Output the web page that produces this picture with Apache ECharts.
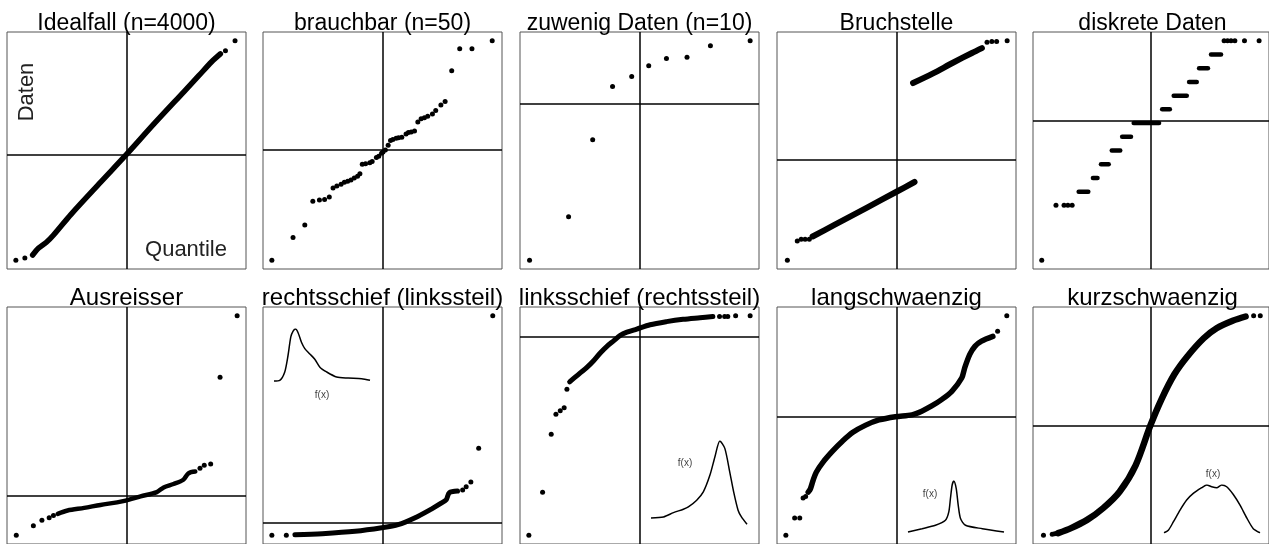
<!DOCTYPE html>
<html>
<head>
<meta charset="utf-8">
<script src="https://cdn.jsdelivr.net/npm/echarts@6/dist/echarts.min.js"></script>
<style>
html, body { margin: 0; padding: 0; background: #fff; }
#c { width: 1269px; height: 544px; }
</style>
</head>
<body>
<div id="c"></div>
<script>
// Panel titles (row by row)
const titles = ['Idealfall (n=4000)', 'brauchbar (n=50)', 'zuwenig Daten (n=10)', 'Bruchstelle', 'diskrete Daten',
  'Ausreisser', 'rechtsschief (linkssteil)', 'linksschief (rechtssteil)', 'langschwaenzig', 'kurzschwaenzig'];

// Level of the horizontal reference line (mean of the data) per panel
const crossY = [0, 0, 0, 0, 10.2, 0, 0, 0, 0, 0];

// Points are [theoretical quantile, data value]
// Idealfall: isolated tail points + the dense body
const idealDots = [[-3.69, -3.48], [-3.39, -3.41], [3.30, 3.41], [3.62, 3.74]];
const idealLine = [[-3.13, -3.31], [-2.93, -3.08], [-2.67, -2.89], [-2.44, -2.66], [-1.85, -1.97], [-0.87, -0.92],
  [0, 0], [0.93, 1.02], [1.92, 2.07], [2.41, 2.59], [2.84, 3.05], [3.13, 3.31]];

// brauchbar: 50 points
const usableDots = [[-2.35, -2.32], [-1.90, -1.84], [-1.65, -1.58], [-1.48, -1.08], [-1.34, -1.05], [-1.23, -1.04],
  [-1.13, -0.99], [-1.05, -0.80], [-0.97, -0.76], [-0.88, -0.72], [-0.81, -0.68], [-0.74, -0.66], [-0.67, -0.63],
  [-0.60, -0.59], [-0.53, -0.55], [-0.48, -0.50], [-0.43, -0.30], [-0.36, -0.29], [-0.27, -0.27], [-0.22, -0.24],
  [-0.13, -0.16], [-0.08, -0.13], [-0.02, -0.07], [0.01, -0.04], [0.06, 0.00], [0.12, 0.10], [0.17, 0.20],
  [0.22, 0.22], [0.29, 0.25], [0.34, 0.26], [0.41, 0.27], [0.50, 0.34], [0.55, 0.37], [0.61, 0.38], [0.68, 0.40],
  [0.75, 0.59], [0.82, 0.66], [0.89, 0.68], [0.96, 0.71], [1.06, 0.76], [1.13, 0.83], [1.24, 0.95], [1.33, 1.02],
  [1.47, 1.67], [1.64, 2.13], [1.90, 2.13], [2.33, 2.30]];

// zuwenig Daten: 10 points
const fewDots = [[-1.55, -2.19], [-1.00, -1.58], [-0.66, -0.50], [-0.38, 0.25], [-0.11, 0.39], [0.13, 0.54],
  [0.38, 0.64], [0.67, 0.66], [1.00, 0.82], [1.56, 0.89]];

// Bruchstelle: two separated straight pieces
const breakDots = [[-3.63, -3.31], [-3.30, -2.68], [-3.17, -2.62], [-3.04, -2.62], [-2.90, -2.62],
  [3.01, 3.85], [3.17, 3.88], [3.33, 3.88], [3.68, 3.90]];
const breakLower = [[-2.79, -2.53], [-2.08, -2.16], [-0.98, -1.58], [0, -1.06], [0.60, -0.74]];
const breakUpper = [[0.55, 2.51], [1.20, 2.82], [1.86, 3.17], [2.51, 3.50], [2.84, 3.66]];

// diskrete Daten: integer levels, each run of equal values spans a quantile interval
const discreteDots = [[-2.84, 0], [-2.47, 4], [-2.26, 4], [-2.16, 4], [-2.05, 4],
  [1.90, 16], [1.99, 16], [2.08, 16], [2.18, 16], [2.43, 16], [2.81, 16]];
const discreteLevels = [5, 6, 7, 8, 9, 10, 11, 12, 13, 14, 15];
const discreteStart = [-1.88, -1.51, -1.30, -1.02, -0.75, -0.45, 0.29, 0.59, 0.99, 1.25, 1.56];
const discreteEnd = [-1.63, -1.39, -1.10, -0.80, -0.52, 0.21, 0.49, 0.93, 1.19, 1.48, 1.82];

// Ausreisser
const outlierDots = [[-2.58, -0.93], [-2.18, -0.71], [-1.98, -0.58], [-1.81, -0.52], [-1.71, -0.47],
  [1.72, 0.64], [1.82, 0.71], [1.97, 0.74], [2.19, 2.77], [2.59, 4.21]];
const outlierLine = [[-1.61, -0.43], [-1.38, -0.35], [-0.99, -0.29], [-0.61, -0.22], [-0.22, -0.16], [-0.02, -0.12],
  [0.33, -0.02], [0.71, 0.08], [0.87, 0.19], [1.10, 0.27], [1.33, 0.37], [1.45, 0.52], [1.61, 0.56]];

// rechtsschief
const rightSkewDots = [[-2.83, -0.33], [-2.46, -0.33], [2.05, 0.83], [2.14, 0.91], [2.26, 1.03], [2.46, 1.90], [2.82, 5.29]];
const rightSkewLine = [[-2.24, -0.32], [-1.54, -0.29], [-0.70, -0.23], [-0.02, -0.14], [0.40, -0.06], [0.82, 0.11],
  [1.25, 0.34], [1.50, 0.49], [1.63, 0.58], [1.71, 0.76], [1.92, 0.80]];
const rightSkewDensity = [[0, 0.019], [0.6, 0.032], [1.12, 0.19], [1.46, 0.50], [1.75, 0.85], [1.99, 0.96], [2.24, 1.0],
  [2.51, 0.93], [2.86, 0.75], [3.21, 0.63], [3.73, 0.53], [4.25, 0.43], [4.78, 0.28], [5.48, 0.19], [6.52, 0.094],
  [7.73, 0.075], [9.13, 0.062], [10.0, 0.032]];

// linksschief
const leftSkewDots = [[-2.82, -5.08], [-2.47, -3.98], [-2.25, -2.50], [-2.13, -1.99], [-2.02, -1.90], [-1.92, -1.82],
  [-1.85, -1.35], [2.04, 0.51], [2.17, 0.51], [2.25, 0.51], [2.45, 0.53], [2.82, 0.53]];
const leftSkewLine = [[-1.78, -1.16], [-1.64, -1.04], [-1.51, -0.93], [-1.34, -0.79], [-1.17, -0.62], [-1.00, -0.42],
  [-0.83, -0.25], [-0.66, -0.11], [-0.49, 0.03], [-0.32, 0.11], [-0.07, 0.19], [0.27, 0.30], [0.69, 0.38],
  [1.11, 0.44], [1.54, 0.48], [1.87, 0.51]];
const leftSkewDensity = [[0, 0.084], [1.30, 0.096], [2.34, 0.147], [3.37, 0.188], [3.89, 0.215], [4.76, 0.295],
  [5.45, 0.394], [6.14, 0.594], [6.66, 0.812], [7.17, 1.0], [7.69, 0.912], [8.20, 0.633], [8.61, 0.394],
  [9.07, 0.176], [9.42, 0.096], [10.0, 0.008]];

// langschwaenzig
const longTailDots = [[-3.02, -3.22], [-2.78, -2.75], [-2.64, -2.75], [-2.55, -2.21], [-2.48, -2.17], [2.76, 2.32], [3.01, 2.74]];
const longTailLine = [[-2.41, -2.05], [-2.35, -1.96], [-2.28, -1.74], [-2.19, -1.51], [-2.01, -1.24], [-1.74, -0.93],
  [-1.47, -0.66], [-1.20, -0.43], [-0.84, -0.23], [-0.48, -0.09], [-0.03, 0.00], [0.42, 0.05], [0.69, 0.15],
  [0.96, 0.29], [1.24, 0.47], [1.51, 0.69], [1.78, 1.05], [1.86, 1.32], [2.00, 1.69], [2.14, 1.91], [2.32, 2.05], [2.63, 2.18]];
const longTailDensity = [[0, 0.019], [1.46, 0.083], [2.86, 0.149], [3.90, 0.246], [4.25, 0.406], [4.42, 0.663],
  [4.60, 0.923], [4.77, 1.0], [5.02, 0.857], [5.23, 0.536], [5.47, 0.277], [5.99, 0.149], [7.74, 0.083], [10.0, 0.019]];

// kurzschwaenzig
const shortTailDots = [[-3.08, -3.07], [-2.83, -3.04], [-2.76, -3.03], [2.94, 3.08], [3.13, 3.08]];
const shortTailLine = [[-2.66, -3.01], [-2.29, -2.87], [-1.83, -2.64], [-1.37, -2.31], [-0.90, -1.85], [-0.44, -1.11],
  [-0.02, 0], [0.30, 0.74], [0.67, 1.44], [1.04, 1.94], [1.51, 2.45], [1.88, 2.73], [2.34, 2.94], [2.71, 3.06]];
const shortTailDensity = [[0, 0.006], [0.45, 0.057], [0.97, 0.23], [1.67, 0.476], [2.36, 0.686], [3.05, 0.824],
  [3.93, 0.943], [4.45, 1.0], [4.97, 0.964], [5.49, 0.943], [6.01, 1.0], [6.53, 0.964], [7.22, 0.803],
  [7.92, 0.581], [8.62, 0.314], [9.30, 0.09], [10.0, 0.006]];

// ---- layout ----
const FONT = '"Liberation Sans", Arial, Helvetica, sans-serif';
const LEFTS = [7, 263, 520, 777, 1033];
const TOPS = [32, 307];
const TITLE_SIZE = [23, 24];
const PW = 239, PH = 237;

const steps = discreteLevels.map((lv, k) => [[discreteStart[k], lv], [discreteEnd[k], lv]]);

const panels = [
  { dots: idealDots, lines: [idealLine], width: 5.5 },
  { dots: usableDots, lines: [], width: 5 },
  { dots: fewDots, lines: [], width: 5 },
  { dots: breakDots, lines: [breakLower, breakUpper], width: 6 },
  { dots: discreteDots, lines: steps, width: 4.5, straight: true },
  { dots: outlierDots, lines: [outlierLine], width: 4.5 },
  { dots: rightSkewDots, lines: [rightSkewLine], width: 5,
    density: rightSkewDensity, inset: { left: 274, top: 329, width: 96, height: 53 }, label: [322, 395] },
  { dots: leftSkewDots, lines: [leftSkewLine], width: 5,
    density: leftSkewDensity, inset: { left: 651, top: 441, width: 96, height: 84 }, label: [685, 463] },
  { dots: longTailDots, lines: [longTailLine], width: 5.5,
    density: longTailDensity, inset: { left: 908, top: 481, width: 96, height: 52 }, label: [930, 494] },
  { dots: shortTailDots, lines: [shortTailLine], width: 6.5,
    density: shortTailDensity, inset: { left: 1164, top: 485, width: 96, height: 48 }, label: [1213, 474] }
];

function extent(p) {
  const pts = p.dots.concat(...p.lines);
  const xs = pts.map(d => d[0]), ys = pts.map(d => d[1]);
  const xm = Math.max(...xs.map(Math.abs));
  const y0 = Math.min(...ys), y1 = Math.max(...ys), r = y1 - y0;
  return { xmin: -xm * 1.08, xmax: xm * 1.08, ymin: y0 - 0.04 * r, ymax: y1 + 0.04 * r };
}

const grid = [], xAxis = [], yAxis = [], series = [], graphic = [];
const hiddenAxis = { axisLine: { show: false }, axisTick: { show: false }, axisLabel: { show: false }, splitLine: { show: false } };

panels.forEach((p, i) => {
  const row = Math.floor(i / 5), col = i % 5;
  const gi = grid.length;
  const left = LEFTS[col], top = TOPS[row];
  grid.push({ left, top, width: PW, height: PH, show: true, borderColor: '#555', borderWidth: 1, backgroundColor: '#fff' });
  const e = extent(p);
  xAxis.push(Object.assign({ type: 'value', gridIndex: gi, min: e.xmin, max: e.xmax }, hiddenAxis));
  yAxis.push(Object.assign({ type: 'value', gridIndex: gi, min: e.ymin, max: e.ymax }, hiddenAxis));

  series.push({
    type: 'scatter', xAxisIndex: gi, yAxisIndex: gi, data: p.dots, symbolSize: 5,
    itemStyle: { color: '#000', opacity: 1 }, z: 3,
    markLine: {
      silent: true, symbol: 'none', animation: false, label: { show: false },
      lineStyle: { color: '#000', width: 1.5, type: 'solid', opacity: 1 },
      data: [{ xAxis: 0 }, { yAxis: crossY[i] }]
    }
  });
  p.lines.forEach(l => {
    series.push({
      type: 'line', xAxisIndex: gi, yAxisIndex: gi, data: l, showSymbol: false, symbol: 'none',
      smooth: p.straight ? false : 0.3, z: 3,
      lineStyle: { color: '#000', width: p.width, cap: 'round', join: 'round', opacity: 1 }
    });
  });

  // title sitting on the top edge of the panel
  graphic.push({
    type: 'text', x: left + PW / 2, y: top + 3, silent: true,
    style: { text: titles[i], font: TITLE_SIZE[row] + 'px ' + FONT, fill: '#000', textAlign: 'center', textVerticalAlign: 'bottom' }
  });

  if (p.density) {
    const ii = grid.length;
    grid.push(Object.assign({ show: false }, p.inset));
    xAxis.push(Object.assign({ type: 'value', gridIndex: ii, min: 0, max: 10 }, hiddenAxis));
    yAxis.push(Object.assign({ type: 'value', gridIndex: ii, min: 0, max: 1 }, hiddenAxis));
    series.push({
      type: 'line', xAxisIndex: ii, yAxisIndex: ii, data: p.density, showSymbol: false, symbol: 'none',
      smooth: 0.25, z: 4, lineStyle: { color: '#000', width: 1.5 }
    });
    graphic.push({
      type: 'text', x: p.label[0], y: p.label[1], silent: true,
      style: { text: 'f(x)', font: '10px ' + FONT, fill: '#444', textAlign: 'center', textVerticalAlign: 'middle' }
    });
  }
});

// axis captions inside the first panel
graphic.push({
  type: 'text', x: 27, y: 92, rotation: Math.PI / 2, silent: true,
  style: { text: 'Daten', font: '22px ' + FONT, fill: '#222', textAlign: 'center', textVerticalAlign: 'middle' }
});
graphic.push({
  type: 'text', x: 186, y: 250, silent: true,
  style: { text: 'Quantile', font: '22px ' + FONT, fill: '#222', textAlign: 'center', textVerticalAlign: 'middle' }
});

const chart = echarts.init(document.getElementById('c'));
chart.setOption({
  backgroundColor: '#fff',
  animation: false,
  grid, xAxis, yAxis, series, graphic
});
</script>
</body>
</html>
